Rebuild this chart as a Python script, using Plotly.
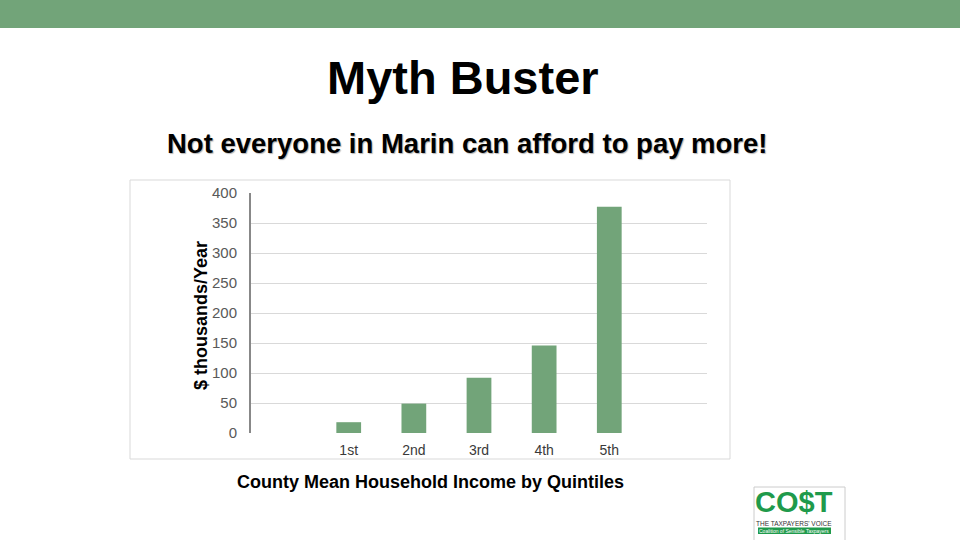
import plotly.graph_objects as go

# ---- data ----
categories = ["1st", "2nd", "3rd", "4th", "5th"]
values = [18, 49, 92, 146, 377]
y_ticks = [0, 50, 100, 150, 200, 250, 300, 350, 400]

title_text = "Myth Buster"
subtitle_text = "Not everyone in Marin can afford to pay more!"
x_title = "County Mean Household Income by Quintiles"
y_title = "$ thousands/Year"

W, H = 960, 540
ML, MR, MT, MB = 251, 253, 193, 107
PW = W - ML - MR
PH = H - MT - MB

def px(x):
    return (x - ML) / PW

def py(y):
    return (H - MB - y) / PH

GREEN = "#72a479"
FONT = "Liberation Sans, Arial, sans-serif"

fig = go.Figure()
fig.add_trace(go.Bar(
    x=categories, y=values, width=0.38,
    marker=dict(color=GREEN, line=dict(width=0)),
    hoverinfo="x+y",
))

shapes = [
    # top band
    dict(type="rect", xref="paper", yref="paper",
         x0=px(0), x1=px(W), y0=py(0), y1=py(28),
         fillcolor=GREEN, line=dict(width=0), layer="below"),
    # chart frame
    dict(type="rect", xref="paper", yref="paper",
         x0=px(130), x1=px(730), y0=py(180), y1=py(459),
         fillcolor="rgba(0,0,0,0)", line=dict(color="#d9d9d9", width=1), layer="below"),
    # logo frame
    dict(type="rect", xref="paper", yref="paper",
         x0=px(754), x1=px(845), y0=py(487), y1=py(548),
         fillcolor="white", line=dict(color="#cccccc", width=1), layer="below"),
    dict(type="rect", xref="paper", yref="paper",
         x0=px(758), x1=px(831), y0=py(527.5), y1=py(534),
         fillcolor="#1f9a4b", line=dict(width=0), layer="below"),
]

annotations = [
    dict(text="<b>%s</b>" % title_text, xref="paper", yref="paper",
         x=px(463), y=py(78), showarrow=False, xanchor="center", yanchor="middle",
         font=dict(family=FONT, size=47, color="#000000")),
    dict(text="<b>%s</b>" % subtitle_text, xref="paper", yref="paper",
         x=px(467), y=py(143), showarrow=False, xanchor="center", yanchor="middle",
         font=dict(family=FONT, size=27.5, color="#000000", shadow="1px 1px 1px #b5b5b5")),
    dict(text="<b>%s</b>" % x_title, xref="paper", yref="paper",
         x=px(430), y=py(482), showarrow=False, xanchor="center", yanchor="middle",
         font=dict(family=FONT, size=18, color="#000000")),
    dict(text="<b>%s</b>" % y_title, xref="paper", yref="paper",
         x=px(201), y=py(316), showarrow=False, xanchor="center", yanchor="middle",
         textangle=-90, font=dict(family=FONT, size=18, color="#000000")),
    # logo
    dict(text="<b>CO$T</b>", xref="paper", yref="paper",
         x=px(794), y=py(518.5), showarrow=False, xanchor="center", yanchor="bottom",
         borderpad=0, font=dict(family=FONT, size=29, color="#1f9a4b")),
    dict(text="THE TAXPAYERS' VOICE", xref="paper", yref="paper",
         x=px(794), y=py(519), showarrow=False, xanchor="center", yanchor="top",
         borderpad=0, font=dict(family=FONT, size=6.5, color="#333333")),
    dict(text="Coalition of Sensible Taxpayers", xref="paper", yref="paper",
         x=px(794), y=py(531), showarrow=False, xanchor="center", yanchor="middle",
         borderpad=0, font=dict(family=FONT, size=5, color="#ffffff")),
]

fig.update_layout(
    width=W, height=H,
    margin=dict(l=ML, r=MR, t=MT, b=MB, autoexpand=False),
    paper_bgcolor="white", plot_bgcolor="white",
    showlegend=False,
    shapes=shapes, annotations=annotations,
    xaxis=dict(
        type="category", range=[-1.5, 5.5], showgrid=False, zeroline=False,
        showline=False, ticks="outside", ticklen=4, tickcolor="rgba(0,0,0,0)",
        tickfont=dict(family=FONT, size=14, color="#3a3a3a"), fixedrange=True,
    ),
    yaxis=dict(
        range=[0, 400], tickvals=y_ticks, showgrid=True, gridcolor="#d9d9d9",
        gridwidth=1, zeroline=False, showline=True, linecolor="#888888", linewidth=2,
        ticks="outside", ticklen=9, tickcolor="rgba(0,0,0,0)",
        tickfont=dict(family=FONT, size=15, color="#595959"), fixedrange=True,
    ),
)

fig.write_html(
    "out.html",
    config={"displayModeBar": False},
    post_script="document.body.style.margin='0';document.body.style.padding='0';",
)
